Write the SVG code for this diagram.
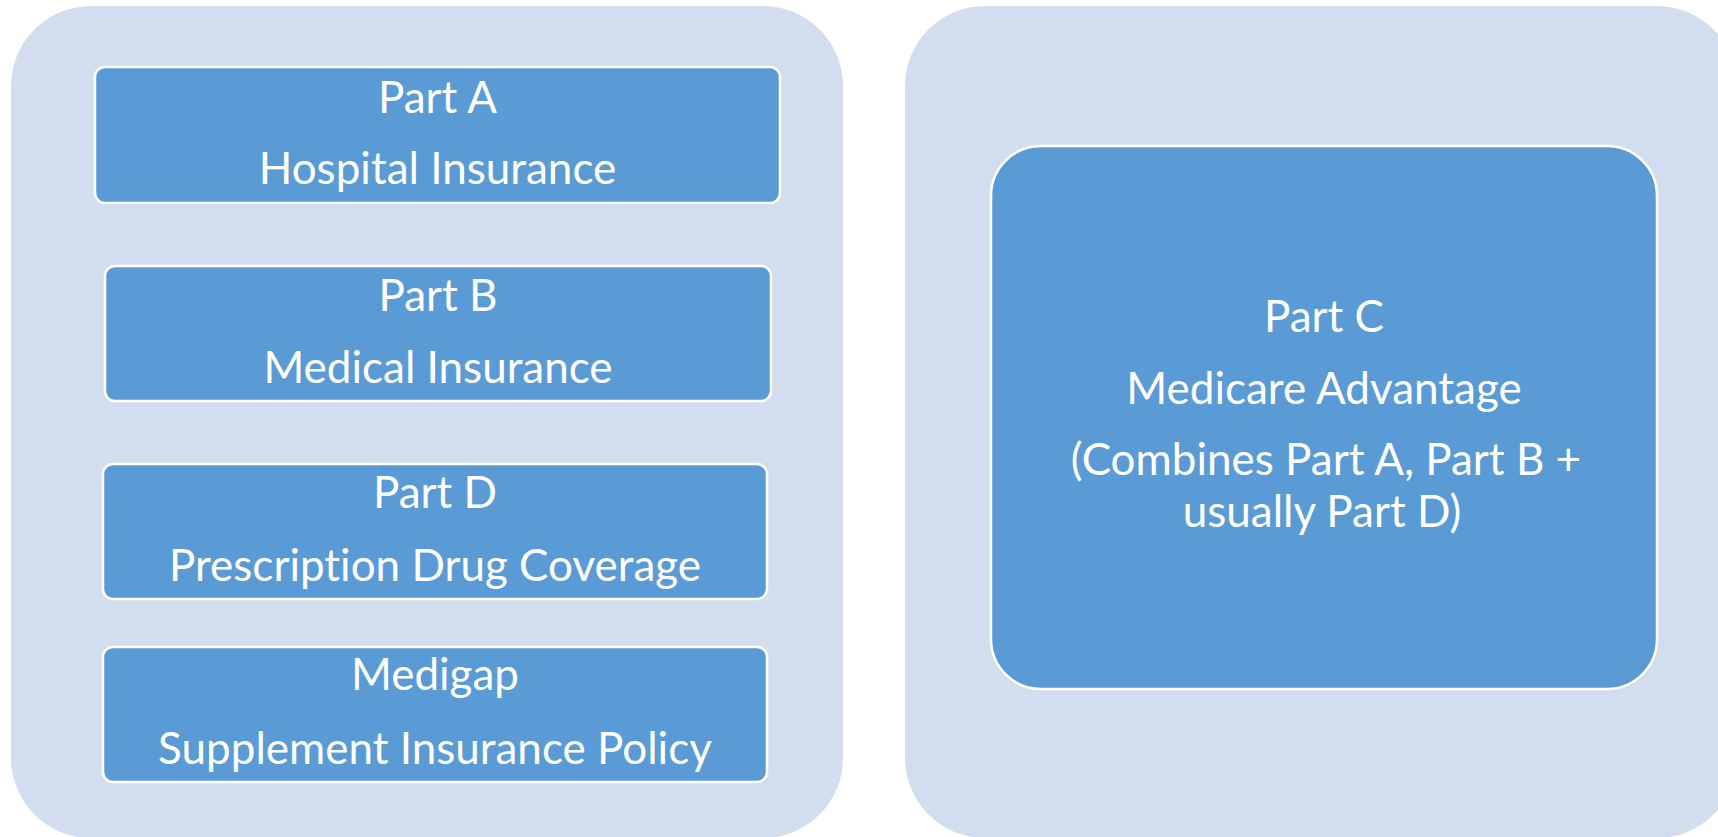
<svg xmlns="http://www.w3.org/2000/svg" width="1718" height="837" viewBox="0 0 1718 837">
  <style>
    .panel { fill: #D2DEEF; }
    .box { fill: #5B9BD5; stroke: #FFFFFF; stroke-width: 2.5; }
    .lbl { fill: #FFFFFF; font-family: Lato, "Open Sans", "Liberation Sans", sans-serif; text-anchor: middle; font-variant-ligatures: none; }
    .sm { font-size: 44px; }
    .lg { font-size: 44px; }
  </style>
  <rect width="1718" height="837" fill="#FFFFFF"/>

  <!-- background panels -->
  <g id="panel-original">
    <rect class="panel" x="11" y="6" width="832" height="832" rx="80" ry="80"/>
  </g>
  <g id="panel-advantage">
    <rect class="panel" x="905" y="6" width="832" height="832" rx="80" ry="80"/>
  </g>

  <!-- Original Medicare components -->
  <g id="part-a">
    <rect class="box" x="95" y="67" width="685" height="136" rx="10" ry="10"/>
    <text class="lbl sm" x="437.5" y="112.7">Part A</text>
    <text class="lbl sm" x="437.5" y="184.3">Hospital Insurance</text>
  </g>
  <g id="part-b">
    <rect class="box" x="105" y="266" width="666" height="135" rx="10" ry="10"/>
    <text class="lbl sm" x="438" y="311">Part B</text>
    <text class="lbl sm" x="438" y="383.3">Medical Insurance</text>
  </g>
  <g id="part-d">
    <rect class="box" x="103" y="464" width="664" height="135" rx="10" ry="10"/>
    <text class="lbl sm" x="435" y="507.5">Part D</text>
    <text class="lbl sm" x="435" y="580.7">Prescription Drug Coverage</text>
  </g>
  <g id="medigap">
    <rect class="box" x="103" y="647" width="664" height="135" rx="10" ry="10"/>
    <text class="lbl sm" x="435" y="690">Medigap</text>
    <text class="lbl sm" x="435" y="764">Supplement Insurance Policy</text>
  </g>

  <!-- Medicare Advantage -->
  <g id="part-c">
    <rect class="box" x="991" y="146" width="666" height="543" rx="50" ry="50"/>
    <text class="lbl lg" x="1324" y="331.7">Part C</text>
    <text class="lbl lg" x="1324" y="404">Medicare Advantage</text>
    <text class="lbl lg" x="1326" y="475">(Combines Part A, Part B +</text>
    <text class="lbl lg" x="1322" y="526.7">usually Part D)</text>
  </g>

  <g id="connectors"/>
</svg>
